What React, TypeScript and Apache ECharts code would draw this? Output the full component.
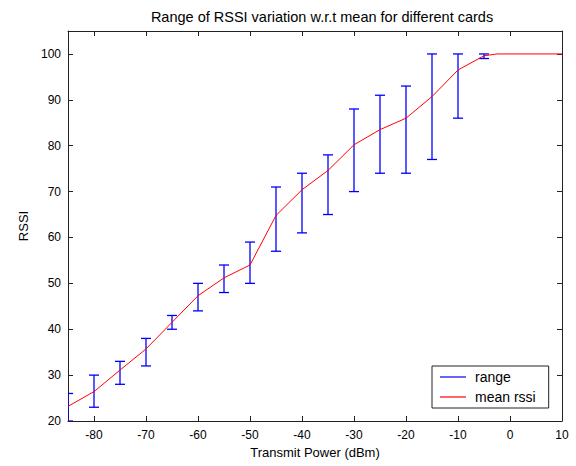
import React, { useEffect, useRef } from "react";
import * as echarts from "echarts";

const powerLevels = [-85, -80, -75, -70, -65, -60, -55, -50, -45, -40, -35, -30, -25, -20, -15, -10, -5];
const rangeLow = [20, 23, 28, 32, 40, 44, 48, 50, 57, 61, 65, 70, 74, 74, 77, 86, 99];
const rangeHigh = [26, 30, 33, 38, 43, 50, 54, 59, 71, 74, 78, 88, 91, 93, 100, 100, 100];
const meanX = [-85, -80, -75, -70, -65, -60, -55, -50, -45, -40, -35, -30, -25, -20, -15, -10, -5, -2.5, 0, 5, 10];
const meanRssi = [23.2, 26.4, 31.1, 35.7, 41.5, 47.3, 51.2, 54.0, 64.8, 70.4, 74.6, 80.2, 83.5, 86.0, 90.7, 96.5, 99.6, 100, 100, 100, 100];

const FONT = "'Liberation Sans', Arial, Helvetica, sans-serif";

export default function App() {
  const ref = useRef<HTMLDivElement>(null);
  useEffect(() => {
    if (!ref.current) return;
    const chart = echarts.init(ref.current, undefined, { renderer: "svg" });
    const errData = powerLevels.map((x, i) => [x, rangeLow[i], rangeHigh[i]]);
    const lineData = meanX.map((x, i) => [x, meanRssi[i]]);
    const axisLine = { show: true, onZero: false, lineStyle: { color: "#222", width: 1 } };
    const tick = { show: true, inside: true, length: 5, lineStyle: { color: "#222" } };
    chart.setOption({
      animation: false,
      backgroundColor: "#ffffff",
      textStyle: { fontFamily: FONT },
      title: {
        text: "Range of RSSI variation w.r.t mean for different cards",
        left: 317,
        top: 4,
        textAlign: "center",
        textStyle: { fontSize: 14.5, fontWeight: "normal", color: "#000", fontFamily: FONT },
      },
      grid: { left: 68, right: 14, top: 31, bottom: 45, containLabel: false },
      legend: {
        left: 432,
        top: 366,
        orient: "vertical",
        backgroundColor: "#fff",
        borderColor: "#222",
        borderWidth: 1,
        borderRadius: 0,
        padding: [3, 13, 3, 8],
        itemGap: 4,
        itemWidth: 26,
        itemHeight: 1.2,
        textStyle: { fontSize: 14, lineHeight: 16, color: "#000", fontFamily: FONT, padding: [0, 0, 0, 4] },
        data: [
          { name: "range", icon: "rect", itemStyle: { color: "#0000ff" } },
          { name: "mean rssi", icon: "rect", itemStyle: { color: "#ff0000" } },
        ],
      },
      xAxis: [
        {
          type: "value",
          min: -85,
          max: 10,
          minInterval: 10,
          maxInterval: 10,
          position: "bottom",
          axisLine,
          axisTick: tick,
          splitLine: { show: false },
          axisLabel: { color: "#000", fontSize: 12, margin: 8, showMinLabel: false, fontFamily: FONT },
          name: "Transmit Power (dBm)",
          nameLocation: "middle",
          nameGap: 25,
          nameTextStyle: { fontSize: 13, color: "#000", fontFamily: FONT },
        },
        {
          type: "value",
          min: -85,
          max: 10,
          minInterval: 10,
          maxInterval: 10,
          position: "top",
          axisLine,
          axisTick: tick,
          splitLine: { show: false },
          axisLabel: { show: false },
        },
      ],
      yAxis: [
        {
          type: "value",
          min: 20,
          max: 105,
          interval: 10,
          position: "left",
          axisLine,
          axisTick: tick,
          splitLine: { show: false },
          axisLabel: { color: "#000", fontSize: 12, margin: 7, showMaxLabel: false, fontFamily: FONT },
          name: "RSSI",
          nameLocation: "middle",
          nameGap: 31,
          nameTextStyle: { fontSize: 13, color: "#000", fontFamily: FONT },
        },
        {
          type: "value",
          min: 20,
          max: 105,
          interval: 10,
          position: "right",
          axisLine,
          axisTick: tick,
          splitLine: { show: false },
          axisLabel: { show: false },
        },
      ],
      series: [
        {
          name: "range",
          type: "custom",
          xAxisIndex: 0,
          yAxisIndex: 0,
          clip: true,
          data: errData,
          itemStyle: { color: "#0000ff" },
          renderItem: (params: any, api: any) => {
            const x = api.value(0);
            const lo = api.coord([x, api.value(1)]);
            const hi = api.coord([x, api.value(2)]);
            const hw = 5;
            const style = { stroke: "#0000ff", lineWidth: 1.3, fill: "none" };
            return {
              type: "group",
              children: [
                { type: "line", shape: { x1: lo[0], y1: lo[1], x2: hi[0], y2: hi[1] }, style },
                { type: "line", shape: { x1: hi[0] - hw, y1: hi[1], x2: hi[0] + hw, y2: hi[1] }, style },
                { type: "line", shape: { x1: lo[0] - hw, y1: lo[1], x2: lo[0] + hw, y2: lo[1] }, style },
              ],
            };
          },
        },
        {
          name: "mean rssi",
          type: "line",
          xAxisIndex: 0,
          yAxisIndex: 0,
          data: lineData,
          showSymbol: false,
          symbol: "none",
          clip: true,
          lineStyle: { color: "#ff0000", width: 1 },
          itemStyle: { color: "#ff0000" },
        },
      ],
    });
    return () => chart.dispose();
  }, []);
  return <div ref={ref} style={{ position: "absolute", left: 0, top: 0, width: 576, height: 466 }} />;
}
